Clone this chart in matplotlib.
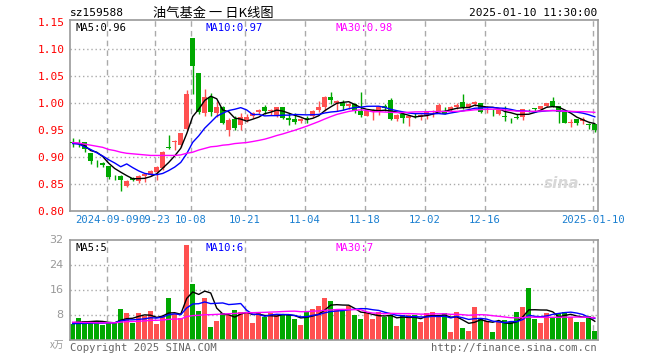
import numpy as np
import pandas as pd
from matplotlib import pyplot as plt

# 日K数据 (2024-08-30 ~ 2025-01-10, 88个交易日)
opens = [0.927, 0.926, 0.927, 0.907, 0.888, 0.889, 0.883, 0.867, 0.865, 0.847,
         0.861, 0.855, 0.864, 0.867, 0.873, 0.880, 0.918, 0.927, 0.923, 0.952,
         1.121, 1.055, 0.982, 1.011, 0.982, 0.993, 0.951, 0.970, 0.959, 0.969,
         0.976, 0.983, 0.993, 0.985, 0.976, 0.993, 0.973, 0.971, 0.967, 0.973,
         0.976, 0.988, 0.993, 1.011, 1.001, 1.000, 0.995, 0.998, 0.985, 0.977,
         0.984, 0.983, 0.995, 1.005, 0.970, 0.979, 0.973, 0.977, 0.975, 0.978,
         0.983, 0.986, 0.985, 0.987, 0.992, 1.002, 0.992, 0.998, 1.000, 0.988,
         0.990, 0.980, 0.977, 0.973, 0.974, 0.974, 0.990, 0.991, 0.990, 0.995,
         1.003, 0.994, 0.983, 0.964, 0.971, 0.966, 0.962, 0.962]
highs = [0.936, 0.934, 0.928, 0.907, 0.894, 0.891, 0.884, 0.867, 0.867, 0.857,
         0.863, 0.867, 0.871, 0.876, 0.884, 0.912, 0.940, 0.932, 0.945, 1.025,
         1.121, 1.055, 1.026, 1.019, 1.003, 0.995, 0.973, 0.977, 0.982, 0.980,
         0.983, 0.990, 0.996, 0.989, 0.993, 0.993, 0.981, 0.981, 0.973, 0.976,
         0.987, 1.003, 1.013, 1.021, 1.005, 1.005, 1.000, 1.000, 1.021, 0.987,
         0.989, 0.994, 0.998, 1.010, 0.980, 0.981, 0.977, 0.981, 0.980, 0.985,
         0.987, 1.000, 0.992, 0.994, 1.000, 1.016, 1.000, 1.003, 1.000, 0.995,
         0.990, 0.989, 0.995, 0.973, 0.979, 0.990, 0.990, 0.991, 0.994, 1.001,
         1.011, 0.995, 0.985, 0.970, 0.971, 0.974, 0.963, 0.962]
lows = [0.918, 0.919, 0.909, 0.887, 0.882, 0.881, 0.860, 0.857, 0.838, 0.845,
        0.855, 0.852, 0.853, 0.864, 0.857, 0.876, 0.915, 0.913, 0.919, 0.950,
        1.017, 0.980, 0.976, 0.977, 0.975, 0.962, 0.939, 0.951, 0.950, 0.965,
        0.972, 0.980, 0.979, 0.978, 0.975, 0.971, 0.960, 0.961, 0.964, 0.964,
        0.975, 0.984, 0.985, 0.999, 0.985, 0.988, 0.989, 0.981, 0.975, 0.976,
        0.968, 0.978, 0.986, 0.969, 0.967, 0.963, 0.957, 0.973, 0.969, 0.970,
        0.975, 0.983, 0.979, 0.986, 0.989, 0.989, 0.991, 0.995, 0.981, 0.982,
        0.976, 0.978, 0.966, 0.963, 0.970, 0.969, 0.983, 0.983, 0.986, 0.993,
        0.993, 0.964, 0.963, 0.955, 0.959, 0.962, 0.952, 0.947]
closes = [0.926, 0.925, 0.915, 0.892, 0.887, 0.886, 0.863, 0.866, 0.858, 0.855,
          0.857, 0.864, 0.869, 0.874, 0.881, 0.909, 0.917, 0.930, 0.944, 1.017,
          1.068, 0.984, 1.012, 0.983, 0.993, 0.964, 0.968, 0.953, 0.974, 0.974,
          0.982, 0.987, 0.985, 0.988, 0.993, 0.973, 0.968, 0.965, 0.971, 0.970,
          0.985, 0.992, 1.012, 1.006, 1.003, 0.994, 0.998, 0.986, 0.978, 0.986,
          0.987, 0.992, 0.991, 0.970, 0.978, 0.972, 0.976, 0.975, 0.978, 0.983,
          0.986, 0.997, 0.980, 0.992, 0.997, 0.992, 0.998, 1.002, 0.983, 0.989,
          0.989, 0.987, 0.974, 0.972, 0.973, 0.989, 0.989, 0.990, 0.994, 1.000,
          0.995, 0.983, 0.964, 0.965, 0.963, 0.971, 0.960, 0.951]
# 成交量 (万)
vols = [5.3, 7.0, 6.3, 6.0, 6.1, 4.8, 5.5, 5.6, 10.1, 8.6,
        5.5, 8.6, 7.9, 9.5, 5.1, 7.8, 13.4, 8.3, 7.1, 30.4,
        18.1, 9.5, 13.6, 4.1, 6.2, 8.8, 8.2, 9.8, 9.0, 8.8,
        5.4, 8.9, 7.6, 8.6, 8.1, 8.0, 8.2, 6.7, 4.8, 9.1,
        10.0, 11.1, 13.4, 12.7, 9.8, 9.4, 10.9, 8.2, 6.8, 8.7,
        6.8, 8.9, 7.6, 8.1, 4.5, 8.1, 8.2, 8.0, 5.8, 8.6,
        8.9, 8.2, 8.8, 2.5, 9.2, 3.8, 2.9, 10.5, 6.7, 6.3,
        2.5, 5.7, 6.5, 6.0, 8.9, 10.5, 16.8, 6.7, 5.6, 8.8,
        7.6, 8.6, 9.2, 7.4, 6.0, 6.0, 7.9, 3.1]

# 图上读出的前几天均线值 (窗口之前的数据不在图中)
ma5_head = [0.926, 0.925, 0.921, 0.912]
ma10_head = [0.925, 0.924, 0.919, 0.914, 0.908, 0.902, 0.895, 0.889, 0.882]
ma30_head = [0.927, 0.926, 0.924, 0.922, 0.920, 0.918, 0.914, 0.912, 0.909, 0.907,
             0.906, 0.905, 0.904, 0.903, 0.903, 0.903, 0.903, 0.903, 0.904, 0.907,
             0.909, 0.913, 0.916, 0.919, 0.920, 0.922, 0.923, 0.925, 0.926]
vma5_head = [5.6, 5.8, 5.9, 6.0]
vma10_head = [5.3, 5.4, 5.4, 5.5, 5.5, 5.5, 5.6, 5.6, 6.2]
vma30_head = [5.8, 5.8, 5.7, 5.7, 5.6, 5.6, 5.6, 5.6, 5.8, 6.0,
              6.0, 6.1, 6.2, 6.4, 6.4, 6.5, 6.7, 6.8, 6.8, 7.6,
              7.9, 8.0, 8.2, 8.2, 8.3, 8.4, 8.5, 8.6, 8.7]

tick_idx = [6, 14, 20, 29, 39, 49, 59, 69, 87]
tick_labels = ["2024-09-09", "09-23", "10-08", "10-21", "11-04",
               "11-18", "12-02", "12-16", "2025-01-10"]
price_ticks = [0.80, 0.85, 0.90, 0.95, 1.00, 1.05, 1.10, 1.15]
vol_ticks = [8, 16, 24, 32]

RED = "#ff5050"
GREEN = "#00a800"
GRID = "#aaaaaa"
MONO = "DejaVu Sans Mono"
plt.rcParams['font.family'] = ['Noto Sans CJK SC', 'DejaVu Sans']


def moving(values, n, head):
    m = pd.Series(values).rolling(n).mean().to_numpy()
    m[:n - 1] = head
    return m


def fx(px):
    return px / 660


def fy(py):
    return 1 - py / 360


fig = plt.figure(figsize=(6.6, 3.6), dpi=100)
ax = fig.add_axes([fx(70), fy(211), fx(597.5) - fx(70), fy(20.3) - fy(211)])
axv = fig.add_axes([fx(70), fy(340.3), fx(597.5) - fx(70), fy(240.3) - fy(340.3)])

x = np.arange(len(closes))
o = np.array(opens)
c = np.array(closes)
colors = [RED if cc >= oo else GREEN for oo, cc in zip(opens, closes)]

for a in (ax, axv):
    a.set_xlim(-0.45, 87.45)
    for s in a.spines.values():
        s.set_color("#999999")
        s.set_linewidth(1.2)
    for t in tick_idx:
        a.axvline(t - 0.35, color=GRID, ls=(0, (4, 3)), lw=1, zorder=0)
    a.tick_params(length=0)

# K线
ax.vlines(x, lows, highs, colors=colors, lw=1, zorder=2)
body_h = np.maximum(np.abs(c - o), 0.0008)
ax.bar(x, body_h, bottom=np.minimum(o, c), width=0.85, color=colors, zorder=3)
ax.plot(x, moving(closes, 5, ma5_head), color="black", lw=1, zorder=4)
ax.plot(x, moving(closes, 10, ma10_head), color="#0000ff", lw=1, zorder=4)
ax.plot(x, moving(closes, 30, ma30_head), color="#ff00ff", lw=1, zorder=4)
ax.set_ylim(0.80, 1.1535)
for p in price_ticks[1:-1]:
    ax.axhline(p, color=GRID, ls=(0, (1, 2)), lw=1, zorder=0)
ax.set_yticks(price_ticks)
ax.set_yticklabels(["%.2f" % p for p in price_ticks], color="red",
                   family=MONO, fontsize=8)
ax.set_xticks([t - 0.35 for t in tick_idx])
ax.set_xticklabels(tick_labels, color="#1a7fd0", family=MONO, fontsize=7.6)
ax.tick_params(axis="x", pad=3)
ax.tick_params(axis="y", pad=4)

ax.text(0.01, 0.985, "MA5:0.96", transform=ax.transAxes, va="top",
        family=MONO, fontsize=7.6, color="black")
ax.text(0.257, 0.985, "MA10:0.97", transform=ax.transAxes, va="top",
        family=MONO, fontsize=7.6, color="#0000ff")
ax.text(0.503, 0.985, "MA30:0.98", transform=ax.transAxes, va="top",
        family=MONO, fontsize=7.6, color="#ff00ff")
ax.text(0.965, 0.12, "sina", transform=ax.transAxes, ha="right",
        fontsize=11, style="italic", weight="bold", color="#d8d8d8",
        family="DejaVu Sans", zorder=1)

# 成交量
axv.bar(x, vols, width=0.85, color=colors, zorder=2)
axv.plot(x, moving(vols, 5, vma5_head), color="black", lw=1, zorder=4)
axv.plot(x, moving(vols, 10, vma10_head), color="#0000ff", lw=1, zorder=4)
axv.plot(x, moving(vols, 30, vma30_head), color="#ff00ff", lw=1, zorder=4)
axv.set_ylim(0, 32)
for v in vol_ticks[:-1]:
    axv.axhline(v, color=GRID, ls=(0, (1, 2)), lw=1, zorder=0)
axv.set_yticks([])
axv.set_xticks([])
for v in vol_ticks:
    axv.text(-0.012, v, str(v), transform=axv.get_yaxis_transform(),
             ha="right", va="center", color="#999999", family="DejaVu Sans",
             fontsize=8)
axv.text(0.01, 0.975, "MA5:5", transform=axv.transAxes, va="top",
         family=MONO, fontsize=7.6, color="black")
axv.text(0.257, 0.975, "MA10:6", transform=axv.transAxes, va="top",
         family=MONO, fontsize=7.6, color="#0000ff")
axv.text(0.503, 0.975, "MA30:7", transform=axv.transAxes, va="top",
         family=MONO, fontsize=7.6, color="#ff00ff")

# 标题和版权
fig.text(fx(70), fy(13), "sz159588", family=MONO, fontsize=8, va="center")
fig.text(fx(213), fy(13), "油气基金 一 日K线图", fontsize=9.5, ha="center",
         va="center")
fig.text(fx(597), fy(13), "2025-01-10 11:30:00", family=MONO, fontsize=8,
         ha="right", va="center")
fig.text(fx(64), fy(345), "x万", color="#999999", fontsize=7, ha="right",
         va="center", style="italic")
fig.text(fx(70), fy(348), "Copyright 2025 SINA.COM", family=MONO,
         fontsize=7.6, color="#666666", va="center")
fig.text(fx(597), fy(348), "http://finance.sina.com.cn", family=MONO,
         fontsize=7.6, color="#666666", ha="right", va="center")

fig.savefig("out.png", dpi=100)
